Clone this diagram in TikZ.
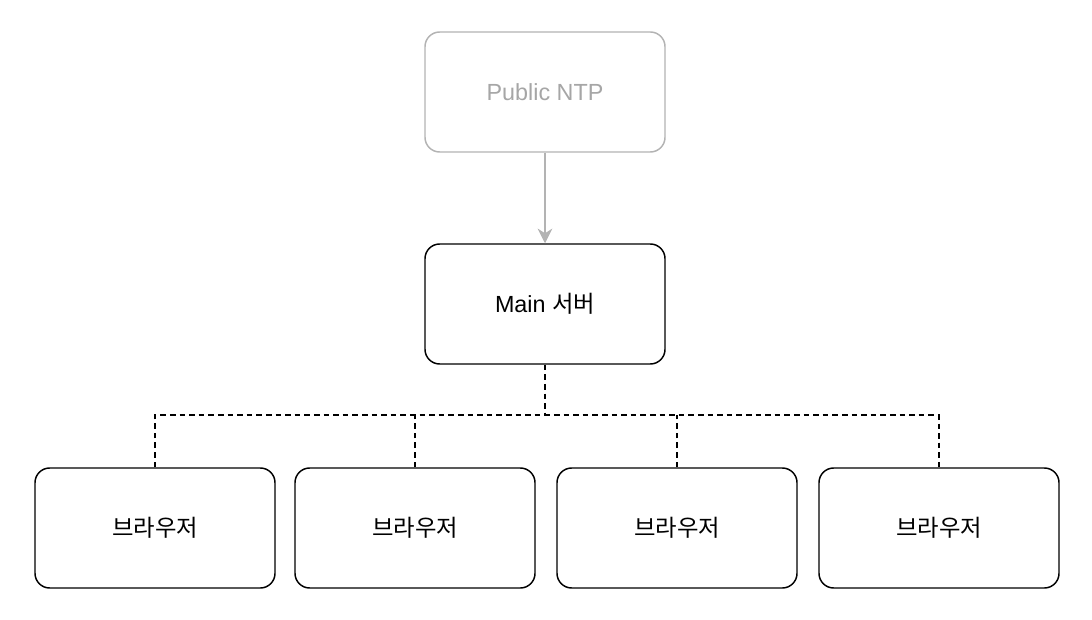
\documentclass[tikz,border=0pt]{standalone}
\usepackage{fontspec}
\setmainfont{Liberation Sans}
\newfontfamily\kr{Noto Sans CJK KR}
\usetikzlibrary{arrows.meta}
\definecolor{lgray}{HTML}{B3B3B3}
\definecolor{tgray}{HTML}{A6A6A6}
\tikzset{
  box/.style={draw=black, line width=1.1pt, rounded corners=11pt, minimum width=180pt, minimum height=90pt, inner sep=0pt, font=\fontsize{17.5pt}{20pt}\selectfont, fill=white},
  graybox/.style={box, draw=lgray, text=tgray},
  link/.style={line width=1.1pt, dash pattern=on 4.2pt off 3pt},
  feed/.style={draw=lgray, line width=1.1pt, -{Stealth[length=11pt,width=11pt,inset=3.5pt]}}
}
\begin{document}
\begin{tikzpicture}[x=0.75pt,y=-0.75pt]
\useasboundingbox (0,0) rectangle (1092,620);
\node[graybox] (ntp) at (545,92) {Public NTP};
\node[box] (main) at (545,304) {Main {\kr 서버}};
\node[box] (b1) at (155,528) {\kr 브라우저};
\node[box] (b2) at (415,528) {\kr 브라우저};
\node[box] (b3) at (677,528) {\kr 브라우저};
\node[box] (b4) at (939,528) {\kr 브라우저};
\coordinate (j) at (545,415);
\draw[feed] (ntp.south) -- (main.north);
\draw[link] (main.south) -- (j);
\draw[link] (b1.north) -- (b1.north |- j) -- (b4.north |- j) -- (b4.north);
\draw[link] (b2.north) -- (b2.north |- j);
\draw[link] (b3.north) -- (b3.north |- j);
\end{tikzpicture}
\end{document}
